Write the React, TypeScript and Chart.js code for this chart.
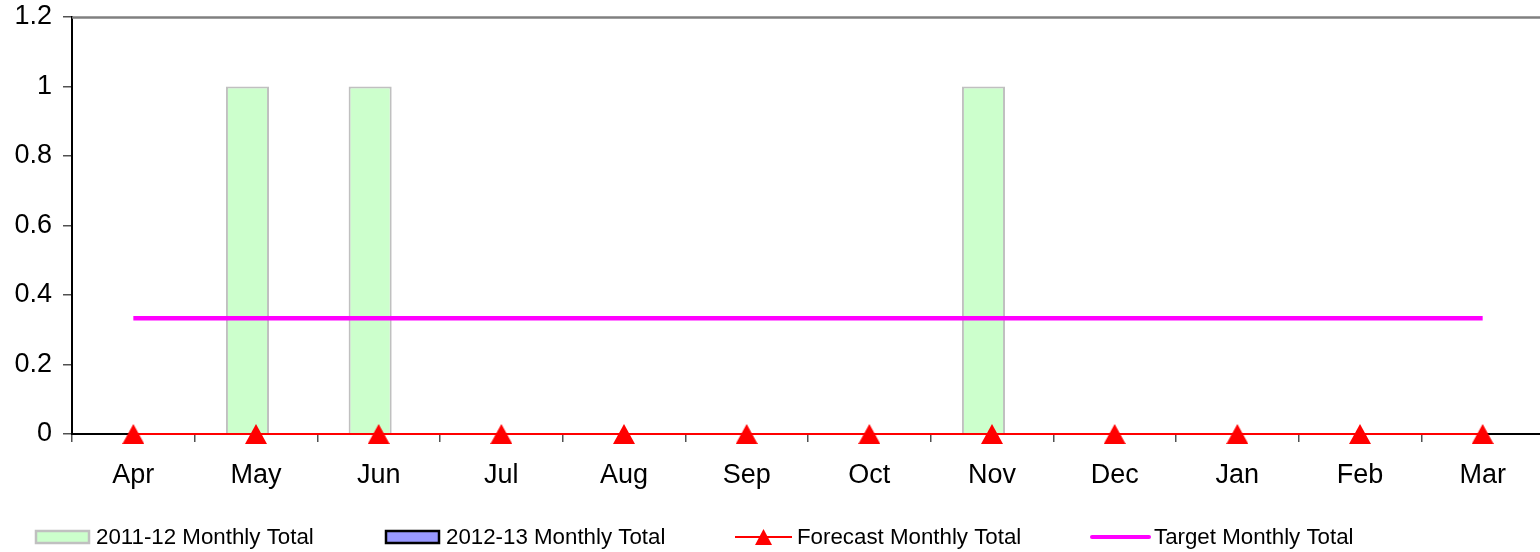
import React, { useEffect, useRef } from "react";
import { Chart, registerables } from "chart.js";

Chart.register(...registerables);

const categories = ["Apr", "May", "Jun", "Jul", "Aug", "Sep", "Oct", "Nov", "Dec", "Jan", "Feb", "Mar"];
const total2011 = [0, 1, 1, 0, 0, 0, 0, 1, 0, 0, 0, 0];
const total2012 = [0, 0, 0, 0, 0, 0, 0, 0, 0, 0, 0, 0];
const forecastTotal = [0, 0, 0, 0, 0, 0, 0, 0, 0, 0, 0, 0];
const targetTotal = [0.3333, 0.3333, 0.3333, 0.3333, 0.3333, 0.3333, 0.3333, 0.3333, 0.3333, 0.3333, 0.3333, 0.3333];
const yMin = 0;
const yMax = 1.2;
const yStep = 0.2;
const legendLabels = ["2011-12 Monthly Total", "2012-13 Monthly Total", "Forecast Monthly Total", "Target Monthly Total"];

const FONT = "'Liberation Sans', Arial, sans-serif";

function makeTriangle(w: number, h: number): HTMLCanvasElement {
  const c = document.createElement("canvas");
  c.width = w;
  c.height = h;
  const g = c.getContext("2d")!;
  g.fillStyle = "#FF0000";
  g.beginPath();
  g.moveTo(w / 2, 0);
  g.lineTo(w, h);
  g.lineTo(0, h);
  g.closePath();
  g.fill();
  return c;
}

export default function App() {
  const ref = useRef<HTMLCanvasElement | null>(null);

  useEffect(() => {
    document.body.style.margin = "0";
    const tri = makeTriangle(22, 20);

    const frame = {
      id: "frame",
      afterDraw(chart: any) {
        const { ctx, chartArea } = chart;
        ctx.save();
        ctx.strokeStyle = "#808080";
        ctx.lineWidth = 2.5;
        ctx.beginPath();
        ctx.moveTo(chartArea.left, chartArea.top + 0.5);
        ctx.lineTo(chartArea.right, chartArea.top + 0.5);
        ctx.stroke();

        // legend
        const y = 537;
        ctx.font = `22.3px ${FONT}`;
        ctx.textBaseline = "middle";
        ctx.textAlign = "left";
        const xs = [35, 385, 735, 1091];
        // item 1
        ctx.fillStyle = "#CCFFCC";
        ctx.fillRect(xs[0], 530, 55, 14);
        ctx.strokeStyle = "#C0C0C0";
        ctx.lineWidth = 2.5;
        ctx.strokeRect(xs[0] + 1, 531, 53, 12);
        // item 2
        ctx.fillStyle = "#9999FF";
        ctx.fillRect(xs[1], 530, 55, 14);
        ctx.strokeStyle = "#000";
        ctx.lineWidth = 2.5;
        ctx.strokeRect(xs[1] + 1, 531, 53, 12);
        // item 3
        ctx.strokeStyle = "#FF0000";
        ctx.lineWidth = 2;
        ctx.beginPath();
        ctx.moveTo(xs[2], y);
        ctx.lineTo(xs[2] + 57, y);
        ctx.stroke();
        ctx.fillStyle = "#FF0000";
        ctx.beginPath();
        ctx.moveTo(xs[2] + 28.5, 529);
        ctx.lineTo(xs[2] + 37, 545);
        ctx.lineTo(xs[2] + 20, 545);
        ctx.closePath();
        ctx.fill();
        // item 4
        ctx.strokeStyle = "#FF00FF";
        ctx.lineWidth = 4;
        ctx.lineCap = "round";
        ctx.beginPath();
        ctx.moveTo(xs[3] + 1, y);
        ctx.lineTo(xs[3] + 58, y);
        ctx.stroke();

        ctx.fillStyle = "#000";
        const tx = [96, 446, 797, 1154];
        legendLabels.forEach((t, i) => ctx.fillText(t, tx[i], y + 1));
        ctx.restore();
      },
    };

    const chart = new Chart(ref.current!, {
      type: "bar",
      data: {
        labels: categories,
        datasets: [
          {
            type: "line",
            label: legendLabels[2],
            data: forecastTotal,
            borderColor: "#FF0000",
            borderWidth: 2,
            pointStyle: tri as any,
            pointRadius: 10,
            pointBackgroundColor: "#FF0000",
            fill: false,
            clip: false as any,
            order: 0,
          } as any,
          {
            type: "line",
            label: legendLabels[3],
            data: targetTotal,
            borderColor: "#FF00FF",
            borderWidth: 4.5,
            pointRadius: 0,
            fill: false,
            order: 1,
          } as any,
          {
            type: "bar",
            label: legendLabels[0],
            data: total2011,
            backgroundColor: "#CCFFCC",
            borderColor: "#C0C0C0",
            borderWidth: 2,
            categoryPercentage: 0.2776,
            barPercentage: 2.53,
            order: 2,
          } as any,
          {
            type: "bar",
            label: legendLabels[1],
            data: total2012,
            backgroundColor: "#9999FF",
            borderColor: "#000000",
            borderWidth: 2,
            categoryPercentage: 0.2776,
            barPercentage: 2.53,
            order: 2,
          } as any,
        ],
      },
      options: {
        responsive: false,
        animation: false,
        layout: { padding: { top: 17, left: 0, right: 0, bottom: 0 } },
        plugins: { legend: { display: false }, tooltip: { enabled: false } },
        scales: {
          x: {
            grid: { offset: true, drawOnChartArea: false, tickLength: 8, color: "#505050", lineWidth: 1.5 },
            border: { color: "#000", width: 2 },
            ticks: { color: "#000", font: { size: 27, family: FONT }, padding: 17, maxRotation: 0, autoSkip: false },
            afterFit: (s: any) => {
              s.height = 118;
            },
          },
          y: {
            min: yMin,
            max: yMax,
            ticks: {
              stepSize: yStep,
              color: "#000",
              font: { size: 27, family: FONT },
              padding: 11,
              callback: (v: any) => String(Math.round(Number(v) * 10) / 10),
            },
            grid: { drawOnChartArea: false, tickLength: 9, color: "#505050", lineWidth: 1.5 },
            border: { color: "#000", width: 2 },
            afterFit: (s: any) => {
              s.width = 72;
              s.paddingTop = 0;
              s.paddingBottom = 0;
            },
          },
        },
      } as any,
      plugins: [frame],
    });
    return () => chart.destroy();
  }, []);

  return (
    <div style={{ width: 1540, height: 552, overflow: "hidden", background: "#fff" }}>
      <canvas ref={ref} width={1556} height={552} style={{ width: 1556, height: 552, display: "block" }} />
    </div>
  );
}
